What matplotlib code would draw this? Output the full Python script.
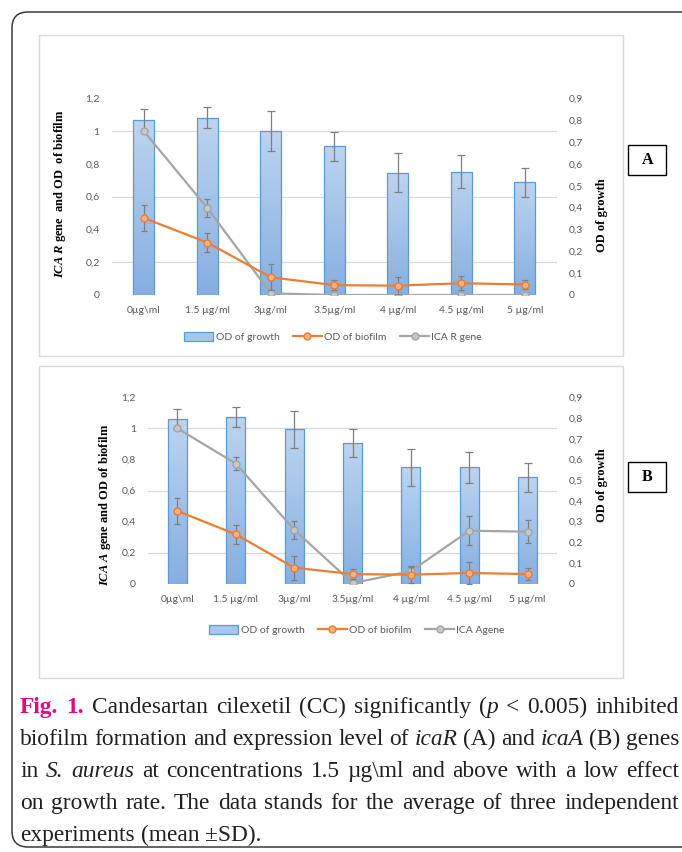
import matplotlib
matplotlib.use("Agg")
import matplotlib.pyplot as plt
import numpy as np
from matplotlib.patches import Rectangle, FancyBboxPatch, Patch
from matplotlib.lines import Line2D
from matplotlib.colors import LinearSegmentedColormap
from matplotlib.ticker import FuncFormatter, FixedLocator

plt.rcParams['mathtext.fontset'] = 'custom'
plt.rcParams['mathtext.rm'] = 'Liberation Serif'
plt.rcParams['mathtext.it'] = 'Liberation Serif:italic'
plt.rcParams['mathtext.bf'] = 'Liberation Serif:bold'
plt.rcParams['mathtext.bfit'] = 'Liberation Serif:italic:bold'
plt.rcParams['font.family'] = ['Lato', 'DejaVu Sans']

# data
doses = ["0\u00b5g\\ml", "1.5 \u00b5g/ml", "3\u00b5g/ml", "3.5\u00b5g/ml", "4 \u00b5g/ml", "4.5 \u00b5g/ml", "5 \u00b5g/ml"]

growth_a = [0.80, 0.81, 0.75, 0.68, 0.56, 0.565, 0.515]
growth_a_sd = [0.049, 0.048, 0.09, 0.067, 0.09, 0.074, 0.066]
biofilm_a = [0.47, 0.32, 0.108, 0.06, 0.057, 0.072, 0.064]
biofilm_a_sd = [0.082, 0.058, 0.08, 0.03, 0.05, 0.042, 0.026]
icar = [1.0, 0.531, 0.01, 0.0, 0.0, 0.0, 0.0]
icar_sd = [0.0, 0.054, 0.0, 0.0, 0.0, 0.0, 0.0]

growth_b = [0.797, 0.806, 0.745, 0.678, 0.562, 0.562, 0.514]
growth_b_sd = [0.048, 0.048, 0.091, 0.067, 0.09, 0.074, 0.069]
biofilm_b = [0.468, 0.318, 0.103, 0.062, 0.058, 0.069, 0.062]
biofilm_b_sd = [0.085, 0.06, 0.078, 0.03, 0.052, 0.07, 0.04]
icaa = [1.0, 0.773, 0.348, 0.004, 0.08, 0.341, 0.335]
icaa_sd = [0.0, 0.044, 0.058, 0.0, 0.032, 0.093, 0.073]

W, H = 682, 852
fig = plt.figure(figsize=(W / 100, H / 100), dpi=100)

tick_col = '#595959'
grid_col = '#d9d9d9'
bar_cmap = LinearSegmentedColormap.from_list('bar', ['#bcd4f0', '#86afe1'])


def comma(v, pos):
    s = ('%.1f' % v).rstrip('0').rstrip('.')
    return s.replace('.', ',')


def fx(px):
    return px / W


def fy(py):
    return 1 - py / H


def panel(rect, growth, growth_sd, biofilm, biofilm_sd, gene, gene_sd, left_label, lab_left, lab_right):
    ax = fig.add_axes(rect)
    ax2 = ax.twinx()
    x = np.arange(len(doses))

    # bars on the right axis (OD of growth)
    bars = ax2.bar(x, growth, width=0.33, facecolor='none', edgecolor='#5b9bd5', linewidth=0.9, zorder=3)
    grad = np.linspace(0, 1, 100).reshape(-1, 1)
    for b in bars:
        im = ax2.imshow(grad, cmap=bar_cmap, aspect='auto', zorder=2,
                        extent=[b.get_x(), b.get_x() + b.get_width(), 0, b.get_height()])
        im.set_clip_path(b)
    ax2.errorbar(x, growth, yerr=growth_sd, fmt='none', ecolor='#7f7f7f', elinewidth=0.9, capsize=3, capthick=0.9, zorder=4)
    ax2.set_ylim(0, 0.9)
    ax2.set_xlim(-0.5, len(doses) - 0.5)
    ax2.yaxis.set_major_locator(FixedLocator(np.arange(0, 0.91, 0.1)))
    ax2.yaxis.set_major_formatter(FuncFormatter(comma))
    # grid follows the left axis ticks (0.2 steps -> 0.15 on right)
    ax2.yaxis.set_minor_locator(FixedLocator(np.arange(0, 1.21, 0.2) * 0.75))
    ax2.grid(which='minor', color=grid_col, linewidth=0.9, zorder=0)
    ax2.set_axisbelow(True)
    ax2.tick_params(axis='y', which='both', length=0, pad=9, labelsize=7.5, labelcolor=tick_col)
    ax2.set_ylabel('OD of growth', family='Liberation Serif', weight='bold', fontsize=9, color='black')
    ax2.yaxis.set_label_coords(lab_right[0], lab_right[1])

    # lines on the left axis
    ax.set_zorder(ax2.get_zorder() + 1)
    ax.patch.set_visible(False)
    ax.errorbar(x, gene, yerr=gene_sd, color='#a5a5a5', ecolor='#7f7f7f', elinewidth=0.9, capsize=2.5, capthick=0.9,
                linewidth=1.6, marker='o', markersize=5, markerfacecolor='#c8c8c8', markeredgecolor='#a5a5a5', zorder=3)
    ax.errorbar(x, biofilm, yerr=biofilm_sd, color='#ed7d31', ecolor='#7f7f7f', elinewidth=0.9, capsize=2.5, capthick=0.9,
                linewidth=1.6, marker='o', markersize=5, markerfacecolor='#f4b183', markeredgecolor='#ed7d31', zorder=4)
    ax.set_ylim(0, 1.2)
    ax.set_xlim(-0.5, len(doses) - 0.5)
    ax.set_yticks(np.arange(0, 1.21, 0.2))
    ax.yaxis.set_major_formatter(FuncFormatter(comma))
    ax.set_xticks(x)
    ax.set_xticklabels(doses)
    ax.tick_params(axis='both', length=0, labelsize=7.5, labelcolor=tick_col)
    ax.tick_params(axis='y', pad=9)
    ax.tick_params(axis='x', pad=8)
    ax2.tick_params(axis='x', length=0, labelbottom=False)
    for a in (ax, ax2):
        for s in a.spines.values():
            s.set_visible(False)
    ax.set_ylabel(left_label, family='Liberation Serif', weight='bold', fontsize=9, color='black')
    ax.yaxis.set_label_coords(lab_left[0], lab_left[1])
    return ax


panel([fx(112), fy(295), fx(556.7) - fx(112), fy(98.3) - fy(295)],
      growth_a, growth_a_sd, biofilm_a, biofilm_a_sd, icar, icar_sd,
      r"$\mathbfit{ICA\ R}$ gene  and OD  of biofilm", (-0.098, 0.513), (1.088, 0.407))
panel([fx(148.3), fy(583.7), fx(556.7) - fx(148.3), fy(397.3) - fy(583.7)],
      growth_b, growth_b_sd, biofilm_b, biofilm_b_sd, icaa, icaa_sd,
      r"$\mathbfit{ICA\ A}$ gene and OD of biofilm", (-0.087, 0.422), (1.096, 0.527))


def legend(cx, cy, gene_name):
    handles = [Patch(facecolor='#a9c6ea', edgecolor='#5b9bd5', linewidth=0.9),
               Line2D([], [], color='#ed7d31', lw=1.6, marker='o', ms=5, mfc='#f4b183', mec='#ed7d31'),
               Line2D([], [], color='#a5a5a5', lw=1.6, marker='o', ms=5, mfc='#c8c8c8', mec='#a5a5a5')]
    fig.legend(handles, ['OD of growth', 'OD of biofilm', gene_name], loc='center', ncol=3,
               bbox_to_anchor=(fx(cx), fy(cy)), frameon=False, fontsize=7.5, labelcolor=tick_col,
               handlelength=2.8, handleheight=0.9, handletextpad=0.2, columnspacing=1.3)


legend(333, 337, 'ICA R gene')
legend(357, 630, 'ICA Agene')

# panel frames
for top, bottom in ((35, 356), (366, 678)):
    fig.patches.append(Rectangle((fx(39.3), fy(bottom)), fx(623.3) - fx(39.3), fy(top) - fy(bottom),
                                 transform=fig.transFigure, fill=False, edgecolor=grid_col, linewidth=1))

# A / B label boxes
for name, top, bottom in (('A', 145, 175), ('B', 462, 492)):
    fig.patches.append(Rectangle((fx(628.3), fy(bottom)), fx(666) - fx(628.3), fy(top) - fy(bottom),
                                 transform=fig.transFigure, fill=False, edgecolor='black', linewidth=1))
    fig.text(fx(647.2), fy((top + bottom) / 2), name, ha='center', va='center',
             family='Liberation Serif', weight='bold', fontsize=11.5)

# outer rounded frame
fig.patches.append(FancyBboxPatch((0.12, 0.05), 7.4, 8.35, boxstyle='round,pad=0,rounding_size=0.16',
                                  transform=fig.dpi_scale_trans, fill=False, edgecolor='#3a3a3a', linewidth=1.1))

# caption, justified like the journal layout
n = dict(family='Liberation Serif', color='#231f20', fontsize=16.8)
it = dict(n, style='italic')
fig_bold = dict(n, weight='bold', color='#e5097f')
caption = [
    [("Fig. 1.", fig_bold), (" Candesartan cilexetil (CC) significantly (", n), ("p", it), (" < 0.005) inhibited", n)],
    [("biofilm formation and expression level of ", n), ("icaR", it), (" (A) and ", n), ("icaA", it), (" (B) genes", n)],
    [("in ", n), ("S. aureus", it), (" at concentrations 1.5 \u00b5g\\ml and above with a low effect", n)],
    [("on growth rate. The data stands for the average of three independent", n)],
    [("experiments (mean \u00b1SD).", n)],
]


def words_of(runs):
    words = [[]]
    for text, style in runs:
        parts = text.split(' ')
        for i, p in enumerate(parts):
            if i > 0:
                words.append([])
            if p:
                words[-1].append((p, style))
    return [w for w in words if w]


renderer = fig.canvas.get_renderer()
x0, x1 = 20, 679
t_sp = fig.text(0, 0, 'a a', **n)
t_a = fig.text(0, 0, 'a', **n)
sp_w = t_sp.get_window_extent(renderer).width - 2 * t_a.get_window_extent(renderer).width
t_sp.remove()
t_a.remove()

for li, runs in enumerate(caption):
    base = 713 + li * 32
    words = words_of(runs)
    placed = []
    total = 0
    for w in words:
        pieces = []
        for text, style in w:
            t = fig.text(0, fy(base), text, va='baseline', **style)
            pieces.append((t, t.get_window_extent(renderer).width))
        wid = sum(p[1] for p in pieces)
        placed.append((pieces, wid))
        total += wid
    last = li == len(caption) - 1
    gap = sp_w if last else max((x1 - x0 - total) / (len(words) - 1), 0.5 * sp_w)
    xx = x0
    for pieces, wid in placed:
        px = xx
        for t, pw in pieces:
            t.set_x(fx(px))
            px += pw
        xx += wid + gap

fig.savefig('out.png', dpi=100)
